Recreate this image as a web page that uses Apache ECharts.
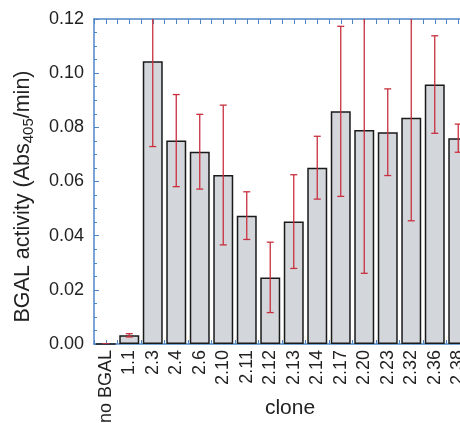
<!DOCTYPE html>
<html>
<head>
<meta charset="utf-8">
<script src="https://cdn.jsdelivr.net/npm/echarts@6/dist/echarts.min.js"></script>
<style>
  html, body { margin: 0; padding: 0; background: #fff; }
  #chart { width: 460px; height: 423px; }
</style>
</head>
<body>
<div id="chart"></div>
<script>
const clones = ['no BGAL', '1.1', '2.3', '2.4', '2.6', '2.10', '2.11', '2.12', '2.13', '2.14', '2.17', '2.20', '2.23', '2.32', '2.36', '2.38']
const activity = [0, 0.0032, 0.1044, 0.0751, 0.0710, 0.0624, 0.0474, 0.0246, 0.0452, 0.0651, 0.0859, 0.0790, 0.0782, 0.0835, 0.0958, 0.0760]
const errors = [0, 0.0006, 0.0315, 0.0170, 0.0138, 0.0258, 0.0088, 0.0130, 0.0173, 0.0116, 0.0314, 0.0529, 0.0160, 0.0380, 0.0180, 0.0052]

const axisBlue = '#4f86c6'
const errRed = '#c8303f'
const font = 'Liberation Sans, Arial, sans-serif'

const chart = echarts.init(document.getElementById('chart'))

// error bar data: [index, low, high]
const errData = clones.map((c, i) => [i, activity[i] - errors[i], activity[i] + errors[i]])

chart.setOption({
  animation: false,
  grid: {
    left: 94,
    right: -10,
    top: 19,
    bottom: 79,
    containLabel: false,
    outerBoundsMode: 'none'
  },
  xAxis: [
    {
      type: 'category',
      data: clones,
      boundaryGap: true,
      axisLine: { show: true, lineStyle: { color: axisBlue, width: 1.5 } },
      axisTick: { show: false },
      axisLabel: {
        rotate: 90,
        color: '#222',
        fontSize: 18,
        fontFamily: font,
        margin: 6,
        interval: 0
      },
      name: 'clone',
      nameLocation: 'middle',
      nameGap: 54,
      nameMoveOverlap: false,
      nameTextStyle: { color: '#222', fontSize: 21, fontFamily: font, padding: [0, 0, 0, 16] }
    },
    {
      // tick-only axis along the bottom
      type: 'value',
      position: 'bottom',
      min: 0,
      max: 16,
      interval: 0.5,
      axisLine: { show: false },
      axisTick: { show: true, inside: true, length: 4, lineStyle: { color: axisBlue } },
      axisLabel: { show: false },
      splitLine: { show: false }
    },
    {
      // tick-only axis along the top
      type: 'value',
      position: 'top',
      min: 0,
      max: 16,
      interval: 0.5,
      axisLine: { show: true, lineStyle: { color: axisBlue, width: 1.5 } },
      axisTick: { show: true, inside: true, length: 5, lineStyle: { color: axisBlue } },
      axisLabel: { show: false },
      splitLine: { show: false }
    }
  ],
  yAxis: {
    type: 'value',
    min: 0,
    max: 0.12,
    interval: 0.02,
    axisLine: { show: true, lineStyle: { color: axisBlue, width: 1.5 } },
    axisTick: { show: true, inside: true, length: 5, lineStyle: { color: axisBlue } },
    minorTick: { show: true, splitNumber: 4, length: 3, lineStyle: { color: axisBlue } },
    splitLine: { show: false },
    axisLabel: {
      color: '#222',
      fontSize: 18,
      fontFamily: font,
      margin: 10,
      formatter: (v) => v.toFixed(2)
    },
    name: '{a|BGAL activity (Abs}{s|405}{a|/min)}',
    nameLocation: 'middle',
    nameRotate: 90,
    nameGap: 58,
    nameMoveOverlap: false,
    nameTextStyle: {
      padding: [0, 30, 0, 0],
      rich: {
        a: { fontSize: 21.5, color: '#222', fontFamily: font },
        s: { fontSize: 15, color: '#222', fontFamily: font, padding: [10, 0, 0, 0] }
      }
    }
  },
  series: [
    {
      type: 'bar',
      data: activity,
      barCategoryGap: '15%',
      itemStyle: {
        color: '#d3d6da',
        borderColor: '#1a1a1a',
        borderWidth: 1.5
      }
    },
    {
      type: 'custom',
      data: errData,
      clip: true,
      z: 5,
      renderItem: (params, api) => {
        const i = api.value(0)
        const low = api.coord([i, api.value(1)])
        const high = api.coord([i, api.value(2)])
        const half = 3.5
        const style = { stroke: errRed, lineWidth: 1.3 }
        return {
          type: 'group',
          children: [
            { type: 'line', shape: { x1: high[0], y1: high[1], x2: low[0], y2: low[1] }, style },
            { type: 'line', shape: { x1: high[0] - half, y1: high[1], x2: high[0] + half, y2: high[1] }, style },
            { type: 'line', shape: { x1: low[0] - half, y1: low[1], x2: low[0] + half, y2: low[1] }, style }
          ]
        }
      }
    }
  ]
})
</script>
</body>
</html>
